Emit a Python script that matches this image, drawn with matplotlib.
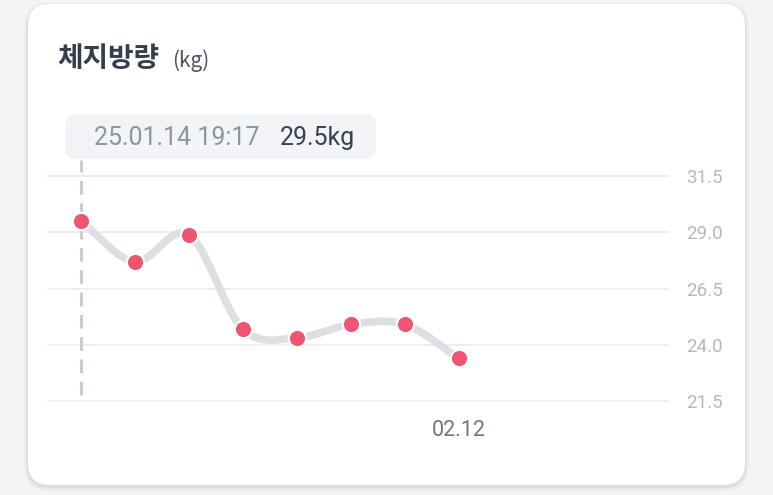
import numpy as np
import matplotlib
matplotlib.use('Agg')
import matplotlib.pyplot as plt
from matplotlib.patches import FancyBboxPatch

# data
values = [29.5, 27.7, 28.9, 24.7, 24.3, 24.9, 24.9, 23.4]
y_ticks = [21.5, 24.0, 26.5, 29.0, 31.5]
x_tick_pos = [7]
x_tick_labels = ['02.12']
title = '체지방량'
unit = '(kg)'
tip_date = '25.01.14 19:17'
tip_value = '29.5kg'

W, H = 773, 495
NUM_FONT = ['Roboto', 'DejaVu Sans']
KR_FONT = ['Noto Sans CJK KR', 'DejaVu Sans']


def catmull_rom(y, n=30):
    # smooth path through the points, like the app's curved line
    x = np.arange(len(y), dtype=float)
    p = np.concatenate([[2 * y[0] - y[1]], y, [2 * y[-1] - y[-2]]])
    xs, ys = [], []
    for i in range(len(y) - 1):
        p0, p1, p2, p3 = p[i], p[i + 1], p[i + 2], p[i + 3]
        t = np.linspace(0, 1, n, endpoint=False)
        yy = 0.5 * (2 * p1 + (-p0 + p2) * t + (2 * p0 - 5 * p1 + 4 * p2 - p3) * t ** 2
                    + (-p0 + 3 * p1 - 3 * p2 + p3) * t ** 3)
        xs.append(x[i] + t)
        ys.append(yy)
    xs.append([x[-1]])
    ys.append([y[-1]])
    return np.concatenate(xs), np.concatenate(ys)


fig = plt.figure(figsize=(W / 100, H / 100), dpi=100)
fig.patch.set_facecolor('#f3f4f6')

# background layer in pixel units
bg = fig.add_axes([0, 0, 1, 1])
bg.set_xlim(0, W)
bg.set_ylim(H, 0)
bg.axis('off')

for k, a in [(4, 0.02), (2.5, 0.03), (1.2, 0.045)]:
    bg.add_patch(FancyBboxPatch((28 - k, 4 - k + 2), 717 + 2 * k, 481 + 2 * k,
                                boxstyle='round,pad=0,rounding_size=24',
                                fc='#000000', ec='none', alpha=a))
bg.add_patch(FancyBboxPatch((28, 4), 717, 481, boxstyle='round,pad=0,rounding_size=22',
                            fc='white', ec='none'))

# tooltip box
bg.add_patch(FancyBboxPatch((65, 114), 311, 45, boxstyle='round,pad=0,rounding_size=10',
                            fc='#f3f4f7', ec='none'))

bg.text(57, 67, title, fontsize=20, fontweight='bold', color='#363d4b',
        family=KR_FONT, va='baseline', ha='left')
bg.text(172, 67, unit, fontsize=15, color='#4f5664', family=KR_FONT,
        va='baseline', ha='left')
bg.text(94, 145, tip_date, fontsize=18, color='#8c95a2', family=NUM_FONT,
        va='baseline', ha='left')
bg.text(280, 145, tip_value, fontsize=18, color='#3a4150', family=NUM_FONT,
        va='baseline', ha='left')

# chart axes, placed in pixel positions
left, right, top, bottom = 47, 668, 160, 410
ax = fig.add_axes([left / W, 1 - bottom / H, (right - left) / W, (bottom - top) / H])
ax.patch.set_alpha(0)
step = 54.0
x0 = 80.7
ax.set_xlim((left - x0) / step, (right - x0) / step)
ppu = 22.4
ax.set_ylim(21.5 - (bottom - 400.7) / ppu, 31.5 + (176.3 - top) / ppu)

for s in ax.spines.values():
    s.set_visible(False)

ax.set_yticks(y_ticks)
ax.set_yticklabels([f'{v:.1f}' for v in y_ticks])
ax.yaxis.tick_right()
ax.tick_params(axis='y', length=0, pad=13, labelsize=13.5, labelcolor='#b3b9c2')
for lb in ax.get_yticklabels():
    lb.set_family(NUM_FONT)
ax.grid(axis='y', color='#eceef1', linewidth=1.4)
ax.set_axisbelow(True)

ax.set_xticks(x_tick_pos)
ax.set_xticklabels(x_tick_labels)
ax.tick_params(axis='x', length=0, pad=7, labelsize=15.5, labelcolor='#6e7684')
for lb in ax.get_xticklabels():
    lb.set_family(NUM_FONT)

# dashed marker line at the selected point
ax.axvline(0, ymin=(bottom - 395) / (bottom - top), ymax=1, color='#c9cdd3',
           linewidth=2.2, dashes=(4.5, 2.8), zorder=1)

xs, ys = catmull_rom(np.array(values, dtype=float))
ax.plot(xs, ys, color='#dcdfe4', linewidth=5.5, solid_capstyle='round', zorder=2)
ax.plot(np.arange(len(values)), values, linestyle='none', marker='o', markersize=12.5,
        markerfacecolor='#ef5470', markeredgecolor='white', markeredgewidth=1.6, zorder=3)

fig.savefig('out.png', dpi=100, facecolor=fig.get_facecolor())
